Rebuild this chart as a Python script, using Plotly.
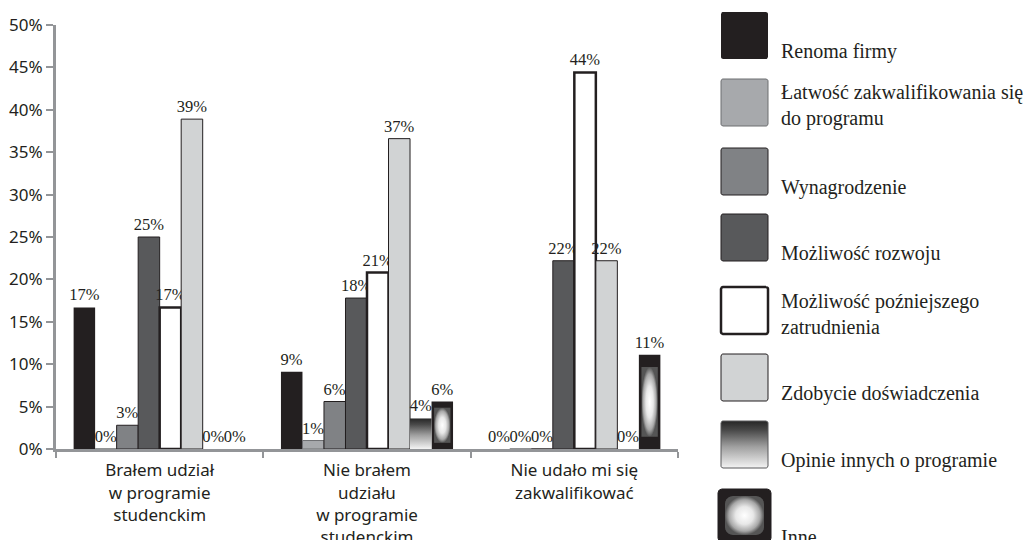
import numpy as np
import plotly.graph_objects as go

# ---- data -------------------------------------------------------------
groups = [
    "Brałem udział<br>w programie<br>studenckim",
    "Nie brałem<br>udziału<br>w programie<br>studenckim",
    "Nie udało mi się<br>zakwalifikować",
]
series_names = [
    "Renoma firmy",
    "Łatwość zakwalifikowania się<br>do programu",
    "Wynagrodzenie",
    "Możliwość rozwoju",
    "Możliwość poźniejszego<br>zatrudnienia",
    "Zdobycie doświadczenia",
    "Opinie innych o programie",
    "Inne",
]
renoma = [16.7, 9.1, 0.0]
latwosc = [0.0, 1.0, 0.0]
wynagrodzenie = [2.8, 5.6, 0.0]
rozwoj = [25.0, 17.8, 22.2]
zatrudnienie = [16.7, 20.8, 44.4]
doswiadczenie = [38.9, 36.6, 22.2]
opinie = [0.0, 3.6, 0.0]
inne = [0.0, 5.6, 11.1]
series_values = [renoma, latwosc, wynagrodzenie, rozwoj,
                 zatrudnienie, doswiadczenie, opinie, inne]
y_ticks = [0, 5, 10, 15, 20, 25, 30, 35, 40, 45, 50]
y_tick_labels = [f"{t}%" for t in y_ticks]

# ---- styles -----------------------------------------------------------
INK = "#231f20"
AXIS = "#939598"
SERIF = "Liberation Serif, Times New Roman, serif"
SANS = "Noto Sans, Open Sans, sans-serif"

solid_fill = ["#231f20", "#a7a9ac", "#808285", "#58595b", "#ffffff", "#d1d3d4", None, INK]
edge_color = ["#231f20", "#6d6e71", "#231f20", "#231f20", "#231f20", "#231f20", INK, INK]
edge_width = [0, 1, 1, 1, 2.5, 1, 0, 0]

# vertical: 0 = bottom (light), 1 = top (dark); radial: 0 = centre, 1 = rim
vertical_grad = [[0.0, "#f4f4f4"], [0.45, "#a0a0a0"], [0.8, "#4a4a4a"], [1.0, "#262626"]]
glow_grad = [[0.0, "#ffffff"], [0.45, "#e8e8e8"], [0.8, "#a8a8a8"], [1.0, "#555555"]]
GLOW_INSET_X, GLOW_INSET_Y = 0.12, 0.13   # glow panel inset, as a fraction of the bar

n_series = len(series_values)
GROUP_SPAN = 0.83
BAR_W = GROUP_SPAN / n_series
x_pos = list(range(len(groups)))
LABEL_FONT = dict(family=SERIF, size=16.5, color=INK)
OPINIE, INNE = 6, 7

fig = go.Figure()

for i, (name, vals) in enumerate(zip(series_names, series_values)):
    off = -GROUP_SPAN / 2 + i * BAR_W
    labels = [f"{v:.0f}%" for v in vals]
    if i == OPINIE:
        # transparent bar carries the value label; gradient body drawn as a filled shape
        marker = dict(color="rgba(0,0,0,0)", line=dict(width=0))
    else:
        marker = dict(color=solid_fill[i], line=dict(color=edge_color[i], width=edge_width[i]))
    fig.add_trace(go.Bar(
        x=x_pos, y=vals, width=BAR_W, offset=off, name=name, marker=marker,
        text=labels, textposition="outside", cliponaxis=False,
        constraintext="none", textfont=LABEL_FONT, showlegend=False,
    ))
    if i not in (OPINIE, INNE):
        continue
    for g, v in zip(x_pos, vals):
        if v <= 0:
            continue
        x0, x1 = g + off, g + off + BAR_W
        if i == OPINIE:
            fig.add_trace(go.Scatter(
                x=[x0, x1, x1, x0, x0], y=[0, 0, v, v, 0],
                mode="lines", fill="toself",
                fillgradient=dict(type="vertical", colorscale=vertical_grad),
                line=dict(width=0, color=INK), hoverinfo="skip", showlegend=False,
            ))
        else:
            gx0, gx1 = x0 + GLOW_INSET_X * BAR_W, x1 - GLOW_INSET_X * BAR_W
            gy0, gy1 = GLOW_INSET_Y * v, (1 - GLOW_INSET_Y) * v
            fig.add_trace(go.Scatter(
                x=[gx0, gx1, gx1, gx0, gx0], y=[gy0, gy0, gy1, gy1, gy0],
                mode="lines", fill="toself",
                fillgradient=dict(type="radial", colorscale=glow_grad),
                line=dict(width=0, color=INK), hoverinfo="skip", showlegend=False,
            ))

# ---- legend drawn on a pixel-space overlay subplot ---------------------
W, H = 1030, 540
LEG_X0, LEG_SIZE = 721, 47
LEG_TOPS = [12, 79, 148, 214, 287, 354, 421, 489]
LEG_TEXT_X = 779


def rounded_rect(x0, y0, x1, y1, r, n=6):
    pts = []
    corners = [(x1 - r, y0 + r, -90, 0), (x1 - r, y1 - r, 0, 90),
               (x0 + r, y1 - r, 90, 180), (x0 + r, y0 + r, 180, 270)]
    for cx, cy, a0, a1 in corners:
        for a in np.linspace(np.radians(a0), np.radians(a1), n):
            pts.append((cx + r * np.cos(a), cy + r * np.sin(a)))
    pts.append(pts[0])
    xs, ys = zip(*pts)
    return list(xs), list(ys)


for i, name in enumerate(series_names):
    top = LEG_TOPS[i]
    kw = dict(mode="lines", fill="toself", xaxis="x2", yaxis="y2",
              hoverinfo="skip", showlegend=False)
    bottom = top + LEG_SIZE
    text_gap = 6
    if i == INNE:
        bottom = top + LEG_SIZE + 6
        text_gap = 8
        xs, ys = rounded_rect(LEG_X0 - 3, top, LEG_X0 + LEG_SIZE + 3, bottom, 4)
        fig.add_trace(go.Scatter(x=xs, y=ys, fillcolor=INK, line=dict(color=INK, width=1), **kw))
        xs, ys = rounded_rect(LEG_X0 + 4, top + 7, LEG_X0 + LEG_SIZE - 4, bottom - 7, 8)
        fig.add_trace(go.Scatter(x=xs, y=ys, line=dict(width=0, color=INK),
                                 fillgradient=dict(type="radial", colorscale=glow_grad), **kw))
    elif i == OPINIE:
        xs, ys = rounded_rect(LEG_X0, top, LEG_X0 + LEG_SIZE, bottom, 2)
        fig.add_trace(go.Scatter(x=xs, y=ys, line=dict(color="#58595b", width=1),
                                 fillgradient=dict(type="vertical", colorscale=vertical_grad),
                                 **kw))
    else:
        xs, ys = rounded_rect(LEG_X0, top, LEG_X0 + LEG_SIZE, bottom, 2)
        fig.add_trace(go.Scatter(
            x=xs, y=ys, fillcolor=solid_fill[i],
            line=dict(color=edge_color[i], width=max(edge_width[i], 1) if i else 0),
            **kw))
    fig.add_annotation(
        x=LEG_TEXT_X / W, y=1 - (bottom + text_gap) / H, xref="paper", yref="paper",
        text=name, showarrow=False, xanchor="left", yanchor="bottom", align="left",
        font=dict(family=SERIF, size=20, color=INK),
    )

PLOT_L, PLOT_R, PLOT_T, PLOT_B = 56, 678, 25, 449

fig.update_layout(
    template="none",
    width=W, height=H,
    margin=dict(l=0, r=0, t=0, b=0, autoexpand=False),
    paper_bgcolor="white", plot_bgcolor="rgba(0,0,0,0)",
    barmode="overlay",
    font=dict(family=SANS, color=INK),
    xaxis=dict(
        domain=[PLOT_L / W, PLOT_R / W], range=[-0.5, len(groups) - 0.5],
        tickmode="array", tickvals=x_pos, ticktext=groups, ticks="",
        ticklabelstandoff=4,
        showgrid=False, zeroline=False, automargin=False,
        showline=True, linecolor=AXIS, linewidth=3,
        tickfont=dict(family=SANS, size=17, color=INK),
        minor=dict(tickmode="array", tickvals=[-0.5, 0.5, 1.5, 2.5],
                   ticks="outside", ticklen=6, tickwidth=2, tickcolor=AXIS,
                   showgrid=False),
        fixedrange=True,
    ),
    yaxis=dict(
        domain=[1 - PLOT_B / H, 1 - PLOT_T / H], range=[0, 50],
        tickmode="array", tickvals=y_ticks, ticktext=y_tick_labels,
        ticks="outside", ticklen=7, tickwidth=2, tickcolor=AXIS,
        showgrid=False, zeroline=False, automargin=False,
        showline=True, linecolor=AXIS, linewidth=3,
        tickfont=dict(family=SANS, size=17, color=INK),
        fixedrange=True,
    ),
    xaxis2=dict(domain=[0, 1], range=[0, W], visible=False, anchor="y2",
                automargin=False, fixedrange=True),
    yaxis2=dict(domain=[0, 1], range=[H, 0], visible=False, anchor="x2",
                automargin=False, fixedrange=True),
)

fig.write_html("out.html")
